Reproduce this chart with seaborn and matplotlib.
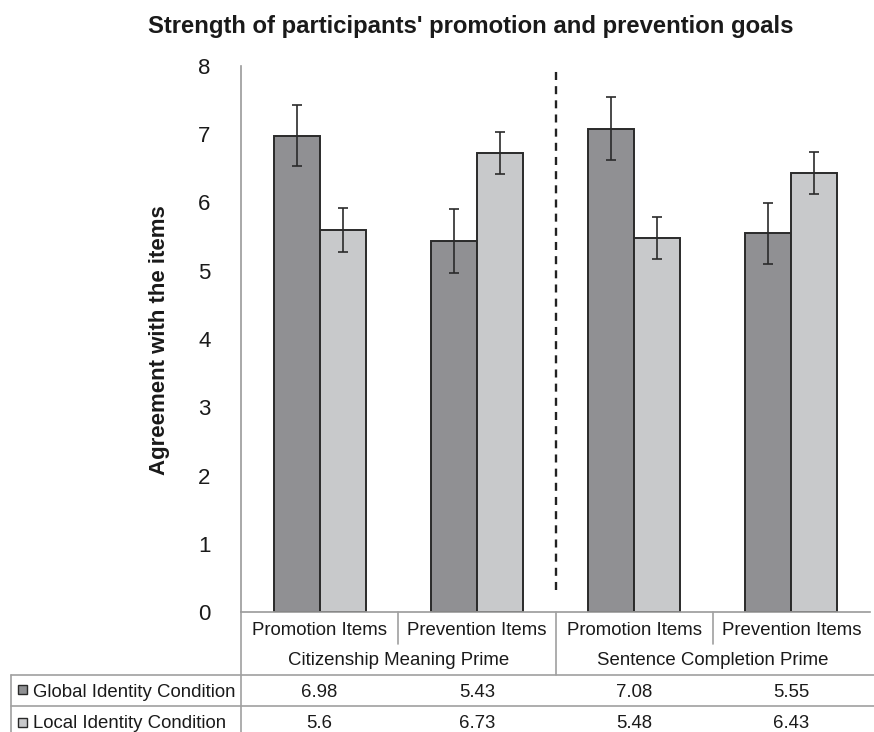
import matplotlib
matplotlib.use("Agg")
import matplotlib.pyplot as plt
from matplotlib.lines import Line2D
from matplotlib.patches import Rectangle
import seaborn as sns
import pandas as pd

# Data
primes = ["Citizenship Meaning Prime", "Sentence Completion Prime"]
items = ["Promotion Items", "Prevention Items"]
conditions = ["Global Identity Condition", "Local Identity Condition"]
global_means = [6.98, 5.43, 7.08, 5.55]
local_means = [5.6, 6.73, 5.48, 6.43]
global_err = [0.45, 0.47, 0.46, 0.45]
local_err = [0.32, 0.31, 0.31, 0.31]
y_ticks = [0, 1, 2, 3, 4, 5, 6, 7, 8]
title = "Strength of participants' promotion and prevention goals"
y_label = "Agreement with the items"

colors = {"Global Identity Condition": "#8f9093", "Local Identity Condition": "#c8c9cb"}

slots = [f"{p} | {i}" for p in primes for i in items]
rows = []
for k, s in enumerate(slots):
    rows.append({"slot": s, "condition": conditions[0], "mean": global_means[k], "err": global_err[k]})
    rows.append({"slot": s, "condition": conditions[1], "mean": local_means[k], "err": local_err[k]})
df = pd.DataFrame(rows)

sns.set_theme(style="white")
plt.rcParams["font.family"] = ["Liberation Sans", "DejaVu Sans"]

W, H = 874, 732
fig = plt.figure(figsize=(W / 100, H / 100), dpi=100)

def fx(px):
    return px / W

def fy(py):
    return 1 - py / H

ax_l, ax_r, ax_t, ax_b = 241, 870, 66, 612
ax = fig.add_axes([fx(ax_l), fy(ax_b), fx(ax_r) - fx(ax_l), fy(ax_t) - fy(ax_b)])

sns.barplot(data=df, x="slot", y="mean", hue="condition", order=slots,
            hue_order=conditions, palette=colors, width=0.585,
            edgecolor="#2a2a2a", linewidth=1.4, errorbar=None, legend=False, ax=ax)

# Error bars at each bar's centre
for cont, cond in zip(ax.containers, conditions):
    sub = df[df["condition"] == cond].set_index("slot").loc[slots]
    xs = [b.get_x() + b.get_width() / 2 for b in cont]
    ax.errorbar(xs, sub["mean"].values, yerr=sub["err"].values, fmt="none",
                ecolor="#2b2b2b", elinewidth=1.2, capsize=3.5, capthick=1.2, zorder=5)

ax.set_ylim(0, 8)
ax.set_xlim(-0.5, 3.5)
ax.set_yticks(y_ticks)
ax.set_yticklabels([str(t) for t in y_ticks], fontsize=16, color="#1a1a1a")
ax.tick_params(axis="y", length=0, pad=22)
ax.set_xticks([])
ax.set_xlabel("")
ax.set_ylabel("")
for side in ["top", "right"]:
    ax.spines[side].set_visible(False)
ax.spines["left"].set_color("#9a9a9a")
ax.spines["left"].set_linewidth(1.2)
ax.spines["bottom"].set_color("#9a9a9a")
ax.spines["bottom"].set_linewidth(1.2)

# Dashed divider between the two primes
ax.plot([1.5, 1.5], [0.32, 8], ls=(0, (3.4, 2.6)), color="#222222", lw=1.7,
        clip_on=False, zorder=4)

fig.text(fx(471), fy(26), title, ha="center", va="center", fontsize=17.2,
         fontweight="bold", color="#1a1a1a")
fig.text(fx(160), fy(340), y_label, ha="center", va="center", rotation=90,
         fontsize=16, fontweight="bold", color="#1a1a1a")

# Data table below the axis
line_c = "#a0a0a0"
def hline(x0, x1, y):
    fig.add_artist(Line2D([fx(x0), fx(x1)], [fy(y), fy(y)], color=line_c, lw=1.2))

def vline(x, y0, y1):
    fig.add_artist(Line2D([fx(x), fx(x)], [fy(y0), fy(y1)], color=line_c, lw=1.2))

group_w = (ax_r - ax_l) / 4
centers = [ax_l + group_w * (k + 0.5) for k in range(4)]
vline(ax_l, ax_b, H)
vline(ax_l + group_w, ax_b, 644)
vline(ax_l + 3 * group_w, ax_b, 644)
vline(ax_l + 2 * group_w, ax_b, 675)
hline(11, W, 675)
hline(11, W, 706)
vline(11, 675, H)

fs = 13.4
for k, c in enumerate(centers):
    fig.text(fx(c), fy(635), items[k % 2], ha="center", va="baseline", fontsize=fs, color="#1a1a1a")
for j, p in enumerate(primes):
    cx = ax_l + group_w * (2 * j + 1)
    fig.text(fx(cx), fy(665), p, ha="center", va="baseline", fontsize=fs, color="#1a1a1a")

row_base = [697, 728]
key_mid = [689, 722]
for r, (cond, vals) in enumerate(zip(conditions, [global_means, local_means])):
    y = row_base[r]
    km = key_mid[r]
    fig.add_artist(Rectangle((fx(18), fy(km + 4.5)), fx(9.5), fy(km - 4.5) - fy(km + 4.5),
                             facecolor=colors[cond], edgecolor="#2a2a2a", lw=1.0))
    fig.text(fx(33), fy(y), cond, ha="left", va="baseline", fontsize=fs, color="#1a1a1a")
    for k, v in enumerate(vals):
        fig.text(fx(centers[k]), fy(y), f"{v:g}", ha="center", va="baseline",
                 fontsize=fs, color="#1a1a1a")

fig.savefig("out.png", dpi=100)
